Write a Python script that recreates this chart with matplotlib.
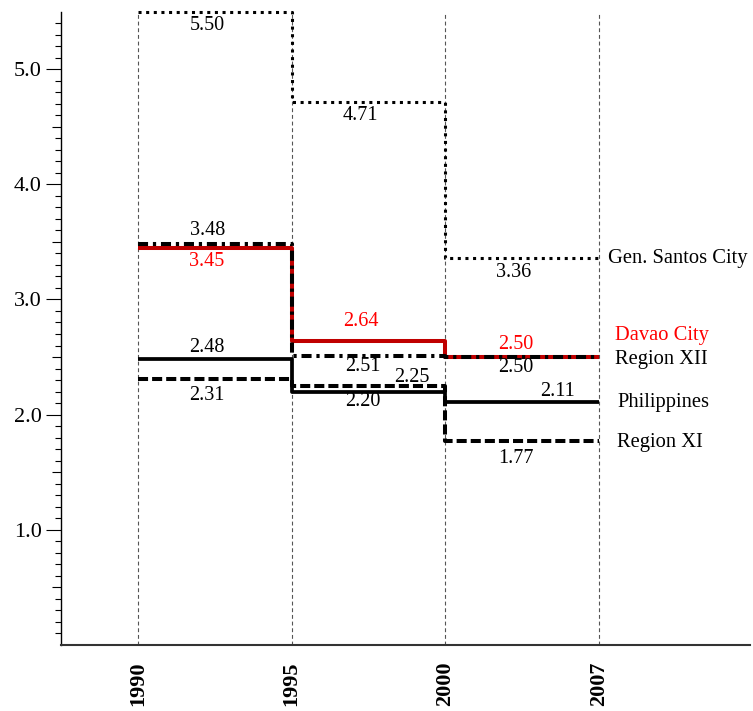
import matplotlib
matplotlib.use("Agg")
import matplotlib.pyplot as plt
from matplotlib.ticker import FixedLocator, NullFormatter

plt.rcParams["font.family"] = ["Liberation Serif", "DejaVu Serif"]

# Growth rates by census period
years = ["1990", "1995", "2000", "2007"]
gensan = [5.50, 4.71, 3.36]
davao = [3.45, 2.64, 2.50]
region12 = [3.48, 2.51, 2.50]
phil = [2.48, 2.20, 2.11]
region11 = [2.31, 2.25, 1.77]

names = ["Gen. Santos City", "Davao City", "Region XII", "Philippines", "Region XI"]
series = [gensan, davao, region12, phil, region11]

# value label placement: x in category units, baseline offset in pixels
lab_x = [[0.45, 1.445, 2.44], [0.45, 1.45, 2.46], [0.455, 1.46, 2.46],
         [0.45, 1.46, 2.73], [0.45, 1.78, 2.46]]
lab_dy = [[-18.5, -17.5, -19], [-18, 14.7, 8], [9, -15, -15],
          [7.5, -14, 6], [-21, 4, -22]]
# series name placement at the right end
name_dx = [9, 16, 16, 18, 18]
name_dy = [-5, 17, -7, -5, -6]

line_colors = ["black", "#c00000", "black", "black", "black"]
text_colors = ["black", "#ff0000", "black", "black", "black"]
line_widths = [2.2, 2.9, 2.9, 2.7, 2.9]
dash_styles = [(0, (1, 1.5)), "solid", (0, (2.5, 1.2, 0.8, 1.2)), "solid", (0, (2.5, 1.0))]

fig = plt.figure(figsize=(7.53, 7.11), dpi=100)
ax = fig.add_axes([61 / 753, 66 / 711, (750 - 61) / 753, (645 - 11.5) / 711])

xpos = list(range(len(years)))

for xp in xpos:
    ax.axvline(xp, color="#555555", lw=0.8, ls=(0, (3.5, 2.5)), zorder=1)

for vals, col, lw, ls in zip(series, line_colors, line_widths, dash_styles):
    ax.plot(xpos, vals + [vals[-1]], drawstyle="steps-post", color=col, lw=lw,
            ls=ls, clip_on=False, zorder=3, solid_capstyle="butt", dash_capstyle="butt")

for vals, lx, ly, tcol in zip(series, lab_x, lab_dy, text_colors):
    for v, x, dy in zip(vals, lx, ly):
        ax.annotate(f"{v:.2f}", xy=(x, v), xytext=(0, dy), textcoords="offset pixels",
                    ha="center", va="baseline", fontsize=14.5, color=tcol, zorder=4)

for name, vals, dx, dy, tcol in zip(names, series, name_dx, name_dy, text_colors):
    ax.annotate(name, xy=(xpos[-1], vals[-1]), xytext=(dx, dy), textcoords="offset pixels",
                ha="left", va="baseline", fontsize=14.8, color=tcol, annotation_clip=False)

ax.set_xlim(-0.5, 3.98)
ax.set_ylim(0, 5.5)

ax.spines["top"].set_visible(False)
ax.spines["right"].set_visible(False)
ax.spines["left"].set_linewidth(1.0)
ax.spines["bottom"].set_linewidth(1.5)
ax.spines["bottom"].set_color("#333333")

ax.set_xticks(xpos)
ax.set_xticklabels(years, rotation=90, fontweight="bold", fontsize=16)
ax.tick_params(axis="x", length=0, pad=12)

major = [1, 2, 3, 4, 5]
ax.set_yticks(major)
ax.set_yticklabels([f"{m:.1f}" for m in major], fontsize=16)
minor = [round(i * 0.1, 1) for i in range(1, 55) if i % 5 != 0]
ax.yaxis.set_minor_locator(FixedLocator(minor))
ax.yaxis.set_minor_formatter(NullFormatter())
ax.tick_params(axis="y", which="major", direction="out", length=10.8, width=0.8, pad=3)
ax.tick_params(axis="y", which="minor", direction="out", length=4.3, width=0.8)

# half-unit ticks, a little longer than the tenths
half = ax.secondary_yaxis("left")
half.set_yticks([0.5, 1.5, 2.5, 3.5, 4.5])
half.set_yticklabels([])
half.tick_params(axis="y", direction="out", length=6.5, width=0.8)
half.spines["left"].set_visible(False)

fig.savefig("out.png", dpi=100)
